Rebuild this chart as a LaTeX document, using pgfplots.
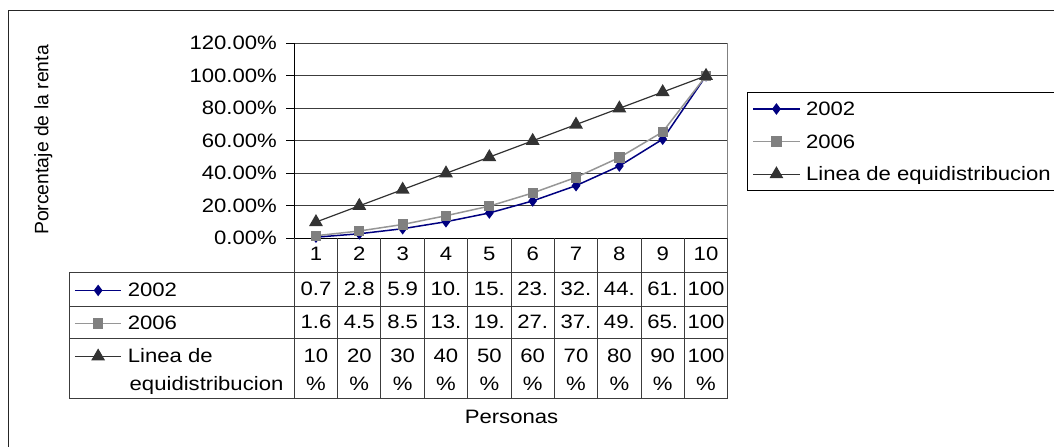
\documentclass[border=0pt]{standalone}
\usepackage{pgfplots}
\pgfplotsset{compat=1.18}
\usepackage{fontspec}
\setmainfont{Liberation Sans}[FakeStretch=1.14]
\newfontfamily\plainsans{Liberation Sans}
\newcommand\chartfont{\fontsize{9.7pt}{13pt}\selectfont}

\definecolor{s2002}{RGB}{0,0,128}
\definecolor{s2006line}{RGB}{150,150,150}
\definecolor{s2006mark}{RGB}{128,128,128}
\definecolor{sequi}{RGB}{51,51,51}
\definecolor{rule}{RGB}{60,60,60}

\pgfplotsset{
  ser2002/.style={color=s2002, line width=0.75pt, mark=diamond*, mark size=2.3pt,
                  mark options={solid, fill=s2002, draw=s2002}},
  ser2006/.style={color=s2006line, line width=0.75pt, mark=square*, mark size=2.2pt,
                  mark options={solid, fill=s2006mark, draw=s2006mark}},
  serequi/.style={color=sequi, line width=0.6pt, mark=triangle*, mark size=3.4pt,
                  mark options={solid, fill=sequi, draw=sequi}},
  keyimage/.style={legend image code/.code={%
      \draw[mark repeat=2, mark phase=2] plot coordinates {(0pt,0pt) (11.65pt,0pt) (23.3pt,0pt)};
      \path (24.6pt,0pt);}},
}

\begin{document}
\begin{tikzpicture}[font=\chartfont]
\useasboundingbox (0,0) rectangle (527pt,-223pt);
\clip (0,0) rectangle (527pt,-223pt);

% chart area frame
\begin{scope}[x=0.5pt, y=-0.5pt]
  \draw[black!85, line width=0.8pt] (8.5,10.5) rectangle (1100,500);
\end{scope}

% plot area with the three cumulative curves
\begin{axis}[
  at={(147.15pt,-119.15pt)}, anchor=south west,
  scale only axis, width=216.7pt, height=97.5pt,
  xmin=0.5, xmax=10.5, ymin=0, ymax=120,
  axis line style={draw=none},
  xtick=\empty,
  ytick={0,20,...,120},
  yticklabels={0.00\%,20.00\%,40.00\%,60.00\%,80.00\%,100.00\%,120.00\%},
  ytick pos=left, tick align=outside, major tick length=4pt,
  ytick style={black, line width=0.5pt},
  yticklabel style={font=\chartfont, inner sep=0pt, xshift=-4.5pt},
  ymajorgrids, major grid style={rule, line width=0.5pt},
  clip=false,
  keyimage,
  legend cell align=left,
  legend style={at={(1.0438,0.7503)}, anchor=north west, draw=black, line width=0.5pt,
                inner xsep=2.6pt, inner ysep=3pt, row sep=5.8pt, font=\chartfont,
                nodes={inner sep=1.5pt, text height=7pt, text depth=0.5pt}},
]
  \draw[black, line width=0.6pt] (rel axis cs:0,0) -- (rel axis cs:0,1);
  \draw[black, line width=0.6pt] (rel axis cs:0,0) -- (rel axis cs:1,0);
  \draw[s2006mark, line width=0.5pt] (rel axis cs:1,0) -- (rel axis cs:1,1);

  \addplot[ser2002] coordinates {
    (1,0.7) (2,2.8) (3,5.9) (4,10.2) (5,15.6) (6,23.0) (7,32.4) (8,44.5) (9,61.0) (10,100)};
  \addlegendentry{2002}
  \addplot[ser2006] coordinates {
    (1,1.6) (2,4.5) (3,8.5) (4,13.9) (5,19.8) (6,27.9) (7,37.5) (8,49.7) (9,65.5) (10,100)};
  \addlegendentry{2006}
  \addplot[serequi] coordinates {
    (1,10) (2,20) (3,30) (4,40) (5,50) (6,60) (7,70) (8,80) (9,90) (10,100)};
  \addlegendentry{Linea de equidistribucion}
\end{axis}

% series keys shown in the data table
\begin{axis}[
  at={(147.15pt,-119.15pt)}, anchor=south west,
  scale only axis, width=216.7pt, height=97.5pt,
  hide axis, xmin=0, xmax=1, ymin=0, ymax=1,
  keyimage,
  legend cell align=left,
  legend style={at={(-0.509,-0.2113)}, anchor=north west, draw=none, fill=none,
                inner xsep=0pt, inner ysep=0pt, row sep=6pt, font=\chartfont,
                nodes={inner sep=1.5pt, text height=7pt, text depth=0.5pt}},
]
  \addlegendimage{ser2002}
  \addlegendentry{2002}
  \addlegendimage{ser2006}
  \addlegendentry{2006}
  \addlegendimage{serequi}
  \addlegendentry{Linea de}
\end{axis}

% data table under the plot
\begin{scope}[x=0.5pt, y=-0.5pt,
  every node/.style={font=\chartfont, inner sep=0pt, text height=6.95pt, text depth=0pt}]
  \draw[rule, line width=0.5pt]
    (69.3,272) -- (727.7,272) (69.3,306) -- (727.7,306)
    (69.3,338) -- (727.7,338) (69.3,398) -- (727.7,398)
    (69.3,272) -- (69.3,398);
  \foreach \k in {0,...,10}
    \draw[rule, line width=0.5pt] ({294.3+43.34*\k},238.3) -- ({294.3+43.34*\k},398);
  \foreach \k in {1,...,10}
    \node at ({294.3+43.34*(\k-0.5)},254) {\k};
  \foreach \v [count=\k] in {0.7,2.8,5.9,10.,15.,23.,32.,44.,61.,100}
    \node at ({294.3+43.34*(\k-0.5)},289) {\v};
  \foreach \v [count=\k] in {1.6,4.5,8.5,13.,19.,27.,37.,49.,65.,100}
    \node at ({294.3+43.34*(\k-0.5)},322) {\v};
  \foreach \v [count=\k] in {10,20,30,40,50,60,70,80,90,100} {
    \node at ({294.3+43.34*(\k-0.5)},356) {\v};
    \node at ({294.3+43.34*(\k-0.5)},384) {\%};
  }
  \node[anchor=west] at (129.3,384) {equidistribucion};
  \node at (511.5,416.7) {Personas};
  \node[rotate=90, font=\plainsans\fontsize{9.7pt}{12pt}\selectfont, text height=6.95pt, text depth=2pt]
    at (43.5,140) {Porcentaje de la renta};
\end{scope}
\end{tikzpicture}
\end{document}
